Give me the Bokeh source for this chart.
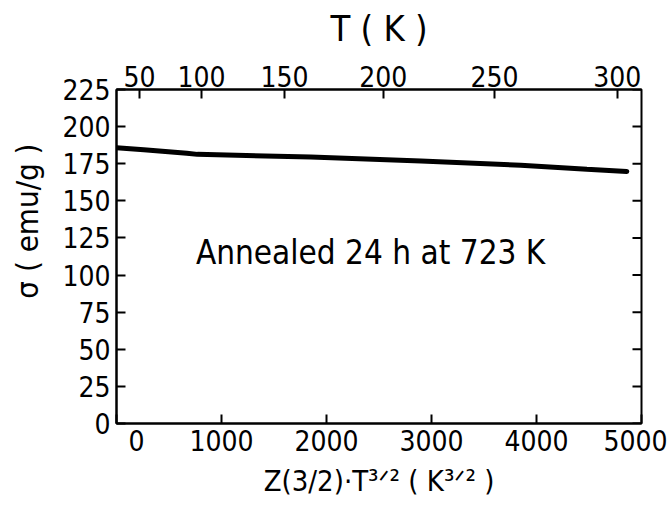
from bokeh.plotting import figure
from bokeh.models import LinearAxis, FixedTicker, Range1d, Label
from bokeh.embed import file_html
from bokeh.resources import INLINE

# ---- data ----
z_values = [0, 260, 670, 770, 1850, 2900, 3850, 4480, 4860]
sigma_values = [185.8, 184.4, 182.1, 181.3, 179.6, 176.8, 174.0, 171.2, 169.8]

x_ticks = [0, 1000, 2000, 3000, 4000, 5000]
y_ticks = [0, 25, 50, 75, 100, 125, 150, 175, 200, 225]

# top axis: temperature T (K), positions read on the Z(3/2)*T^(3/2) scale
top_tick_positions = [220, 810, 1600, 2540, 3600, 4770]
top_tick_labels = ["50", "100", "150", "200", "250", "300"]

NB = "\u00a0"
x_label = "Z(3/2)\u00b7T\u00b3\u141f\u00b2 ( K\u00b3\u141f\u00b2 )"
y_label = NB * 8 + "\u03c3 ( emu/g )"
top_label = "T ( K )"
annotation = "Annealed 24 h at 723 K"
annotation_pos = (2420, 115)

X_MIN, X_MAX = 0, 5000
Y_MIN, Y_MAX = 0, 225

FONT = "'DejaVu Sans Condensed', Roboto"

p = figure(width=667, height=505,
           x_range=Range1d(X_MIN, X_MAX), y_range=Range1d(Y_MIN, Y_MAX),
           output_backend="svg", toolbar_location=None)
p.min_border_left = 116
p.min_border_right = 26
p.min_border_top = 89
p.min_border_bottom = 82
p.background_fill_color = "white"
p.border_fill_color = "white"
p.outline_line_color = "black"
p.outline_line_width = 2
p.xgrid.visible = False
p.ygrid.visible = False


def style_axis(ax):
    ax.axis_line_color = "black"
    ax.axis_line_width = 2
    ax.major_tick_line_color = "black"
    ax.major_tick_line_width = 2
    ax.major_tick_in = 9
    ax.major_tick_out = 0
    ax.minor_tick_line_color = None
    ax.major_label_text_font = FONT
    ax.major_label_text_font_size = "28px"
    ax.major_label_text_color = "black"
    ax.axis_label_text_font = FONT
    ax.axis_label_text_font_style = "normal"
    ax.axis_label_text_color = "black"
    ax.axis_label_text_font_size = "31px"


# bottom axis
xa = p.xaxis[0]
style_axis(xa)
xa.ticker = FixedTicker(ticks=x_ticks)
xa.major_label_overrides = {0: NB * 5 + "0"}
xa.axis_label = x_label
xa.axis_label_text_font_size = "29px"
xa.major_label_standoff = 1
xa.axis_label_standoff = 3

# left axis
ya = p.yaxis[0]
style_axis(ya)
ya.ticker = FixedTicker(ticks=y_ticks)
ya.axis_label = y_label
ya.major_label_standoff = 6
ya.axis_label_standoff = 14

# top axis (temperature)
top = LinearAxis(ticker=FixedTicker(ticks=top_tick_positions),
                 major_label_overrides={pos: lab for pos, lab in zip(top_tick_positions, top_tick_labels)},
                 axis_label=top_label)
style_axis(top)
top.major_label_standoff = 3
top.axis_label_standoff = 14
top.axis_label_text_font_size = "36px"
p.add_layout(top, "above")

# right side: inward ticks only (dash markers clipped at the frame edge)
p.scatter(x=[X_MAX] * len(y_ticks), y=y_ticks, marker="dash", size=18,
          line_color="black", line_width=2)

p.line(z_values, sigma_values, line_color="black", line_width=5, line_cap="round")

p.add_layout(Label(x=annotation_pos[0], y=annotation_pos[1], text=annotation,
                   text_font=FONT, text_font_size="33px", text_color="black",
                   text_align="center", text_baseline="middle"))

open("out.html", "w").write(file_html(p, INLINE))
